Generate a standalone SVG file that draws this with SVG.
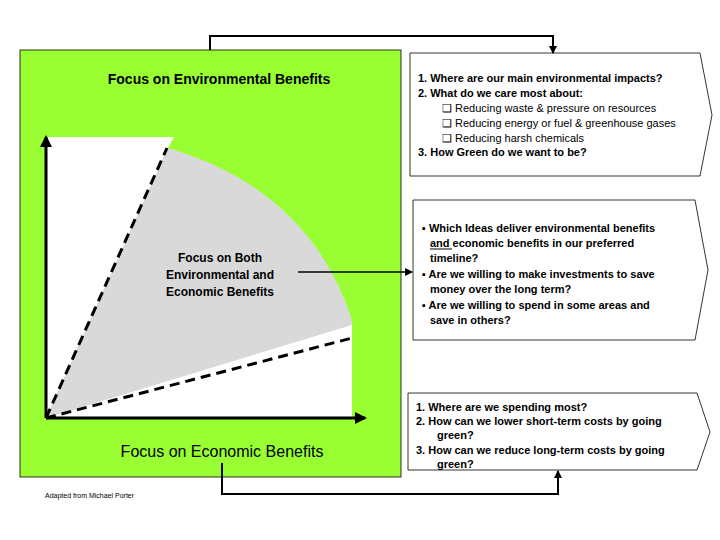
<svg xmlns="http://www.w3.org/2000/svg" width="720" height="540" viewBox="0 0 720 540">
<style>
text{font-family:"Liberation Sans",Arial,sans-serif;fill:#000}
.b{font-weight:bold;font-size:11px}
.box{fill:#fff;stroke:#000;stroke-width:0.8}
.con{fill:none;stroke:#000;stroke-width:2}
.dash{stroke:#000;stroke-width:3;stroke-dasharray:10,6;fill:none}
</style>
<defs>
<marker id="ah" markerWidth="8" markerHeight="8" refX="7" refY="4" orient="auto" markerUnits="userSpaceOnUse"><path d="M0,0 L8,4 L0,8 Z" fill="#000"/></marker>
<marker id="big" markerWidth="12" markerHeight="12" refX="10" refY="6" orient="auto" markerUnits="userSpaceOnUse"><path d="M0,0 L12,6 L0,12 Z" fill="#000"/></marker>
</defs>
<rect width="720" height="540" fill="#fff"/>
<g id="chart">
<rect x="20" y="50" width="381" height="427" fill="#99ff33" stroke="#000" stroke-width="0.8"/>
<text x="219" y="84" text-anchor="middle" style="font-size:14px;font-weight:bold">Focus on Environmental Benefits</text>
<polygon points="46,137 174,137 168,148 46,418" fill="#fff"/>
<path d="M168,148 Q310,190 352,320 L352,327 L46,418 Z" fill="#d9d9d9"/>
<polygon points="352,325 352,418 46,418" fill="#fff"/>
<line x1="46" y1="418" x2="167" y2="148" class="dash"/>
<line x1="46" y1="418" x2="352" y2="338" class="dash"/>
<line x1="46" y1="418" x2="46" y2="137" stroke="#000" stroke-width="3" marker-end="url(#big)"/>
<line x1="46" y1="418" x2="365" y2="418" stroke="#000" stroke-width="3" marker-end="url(#big)"/>
<text class="b" text-anchor="middle" style="font-size:12px"><tspan x="220" y="262">Focus on Both</tspan><tspan x="220" y="279">Environmental and</tspan><tspan x="220" y="296">Economic Benefits</tspan></text>
<text x="222" y="457" text-anchor="middle" style="font-size:16px">Focus on Economic Benefits</text>
</g>
<text x="45" y="498" style="font-size:7px">Adapted from Michael Porter</text>
<g id="box1">
<polygon class="box" points="410,53 700,53 712,115 700,176 410,176"/>
<text class="b"><tspan x="418" y="82">1. Where are our main environmental impacts?</tspan><tspan x="418" y="97">2. What do we care most about:</tspan></text>
<text style="font-size:11px"><tspan x="442" y="112">❑ Reducing waste &amp; pressure on resources</tspan><tspan x="442" y="127">❑ Reducing energy or fuel &amp; greenhouse gases</tspan><tspan x="442" y="142">❑ Reducing harsh chemicals</tspan></text>
<text class="b" x="418" y="156">3. How Green do we want to be?</text>
</g>
<g id="box2">
<polygon class="box" points="413,200 695,200 708,270 695,340 413,340"/>
<text class="b"><tspan x="422" y="232">▪ Which Ideas deliver environmental benefits</tspan><tspan x="430" y="247">and economic benefits in our preferred</tspan><tspan x="430" y="262">timeline?</tspan><tspan x="422" y="278">▪ Are we willing to make investments to save</tspan><tspan x="430" y="293">money over the long term?</tspan><tspan x="422" y="309">▪ Are we willing to spend in some areas and</tspan><tspan x="430" y="324">save in others?</tspan></text>
<line x1="430" y1="249" x2="452" y2="249" stroke="#000" stroke-width="1"/>
</g>
<g id="box3">
<polygon class="box" points="408,393 697,393 710,432 697,470 408,470"/>
<text class="b"><tspan x="416" y="411">1.  Where are we spending most?</tspan><tspan x="416" y="425">2.  How can we lower short-term costs by going</tspan><tspan x="437" y="439">green?</tspan><tspan x="416" y="454">3.  How can we reduce long-term costs by going</tspan><tspan x="437" y="468">green?</tspan></text>
</g>
<g id="connectors">
<polyline class="con" points="210,50 210,36 553,36 553,53" marker-end="url(#ah)"/>
<polyline class="con" points="222,463 222,494 558,494 558,471" marker-end="url(#ah)"/>
<line x1="298" y1="272" x2="412" y2="272" stroke="#000" stroke-width="1.5" marker-end="url(#ah)"/>
</g>
</svg>
